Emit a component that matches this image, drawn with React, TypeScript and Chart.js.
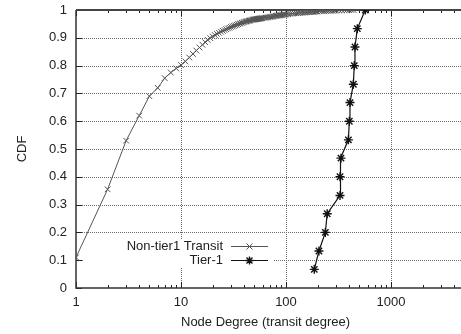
import React, { useEffect, useRef } from "react";
import { Chart, registerables } from "chart.js";

Chart.register(...registerables);

const nonTier1Degrees = [
  1, 2, 3, 4, 5, 6, 7, 8, 9, 10, 11, 12, 13, 14, 15, 16, 17, 18, 19, 20,
  21, 22, 23, 24, 25, 26, 27, 28, 29, 30, 31, 32, 33, 34, 35, 36, 37, 38, 39, 40,
  41, 42, 43, 44, 45, 46, 47, 48, 49, 50, 51, 52, 53, 54, 55, 56, 57, 58, 59, 60,
  62, 64, 66, 68, 70, 72, 74, 76, 78, 80, 82, 84, 86, 88, 90, 92, 94, 96, 98, 100,
  105, 110, 115, 120, 125, 130, 135, 140, 145, 150, 155, 160, 165, 170, 175, 180, 185, 190, 195, 200,
  210, 220, 230, 240, 250, 260, 270, 280, 290, 300,
  320, 340, 360, 380, 400, 420, 440,
];
const nonTier1Cdf = [
  0.11, 0.355, 0.53, 0.62, 0.69, 0.72, 0.755, 0.775, 0.79, 0.802, 0.815, 0.829, 0.842, 0.854, 0.865, 0.875, 0.884, 0.892, 0.899, 0.905,
  0.91, 0.914, 0.918, 0.922, 0.925, 0.928, 0.931, 0.934, 0.936, 0.939, 0.941, 0.943, 0.945, 0.947, 0.949, 0.951, 0.952, 0.954, 0.955, 0.957,
  0.958, 0.959, 0.96, 0.961, 0.962, 0.963, 0.964, 0.965, 0.9655, 0.966, 0.9665, 0.967, 0.9675, 0.968, 0.9685, 0.969, 0.9695, 0.97, 0.9705, 0.971,
  0.972, 0.9725, 0.973, 0.974, 0.975, 0.9755, 0.976, 0.977, 0.978, 0.979, 0.9795, 0.98, 0.9805, 0.981, 0.982, 0.9825, 0.983, 0.983, 0.9835, 0.984,
  0.985, 0.986, 0.987, 0.988, 0.9885, 0.989, 0.9895, 0.99, 0.9905, 0.991, 0.9915, 0.992, 0.9925, 0.993, 0.993, 0.994, 0.994, 0.994, 0.9945, 0.995,
  0.9955, 0.996, 0.9965, 0.997, 0.997, 0.9975, 0.998, 0.998, 0.998, 0.9985,
  0.999, 0.999, 0.9995, 0.9995, 1.0, 1.0, 1.0,
];

const tier1Degrees = [186, 206, 237, 247, 327, 327, 334, 393, 401, 407, 438, 447, 454, 478, 569];
const tier1Cdf = [0.067, 0.133, 0.2, 0.267, 0.333, 0.4, 0.467, 0.533, 0.6, 0.667, 0.733, 0.8, 0.867, 0.933, 1.0];

const xMajorTicks = [1, 10, 100, 1000];
const xMinorTicks = [
  2, 3, 4, 5, 6, 7, 8, 9, 20, 30, 40, 50, 60, 70, 80, 90,
  200, 300, 400, 500, 600, 700, 800, 900, 2000, 3000, 4000,
];
const yTicks = [0, 0.1, 0.2, 0.3, 0.4, 0.5, 0.6, 0.7, 0.8, 0.9, 1];

const seriesNames = ["Non-tier1 Transit", "Tier-1"];

const FONT = '"Liberation Sans", Arial, sans-serif';
const C1 = "#555555";
const C2 = "#111111";

function drawMarker(ctx: CanvasRenderingContext2D, kind: string, x: number, y: number, r: number) {
  ctx.beginPath();
  const d = r * 0.75;
  ctx.moveTo(x - d, y - d);
  ctx.lineTo(x + d, y + d);
  ctx.moveTo(x - d, y + d);
  ctx.lineTo(x + d, y - d);
  if (kind === "star") {
    ctx.moveTo(x - r, y);
    ctx.lineTo(x + r, y);
    ctx.moveTo(x, y - r);
    ctx.lineTo(x, y + r);
  }
  ctx.stroke();
}

const framePlugin = {
  id: "frame",
  beforeDatasetsDraw(chart: any) {
    const { ctx, chartArea, scales } = chart;
    const { left, top, bottom } = chartArea;
    const right = chart.width;
    const xs = scales.x;
    const ys = scales.y;
    ctx.save();
    ctx.strokeStyle = "#6a6a6a";
    ctx.lineWidth = 1;
    ctx.setLineDash([1, 1]);
    yTicks.forEach((v) => {
      if (v === 0 || v === 1) return;
      const py = Math.round(ys.getPixelForValue(v)) + 0.5;
      ctx.beginPath();
      ctx.moveTo(left, py);
      ctx.lineTo(right, py);
      ctx.stroke();
    });
    xMajorTicks.forEach((v) => {
      if (v === 1) return;
      const px = Math.round(xs.getPixelForValue(v)) + 0.5;
      ctx.beginPath();
      ctx.moveTo(px, top);
      ctx.lineTo(px, bottom);
      ctx.stroke();
    });
    ctx.setLineDash([]);
    ctx.fillStyle = "#ffffff";
    ctx.fillRect(84, 240, 190, 27);
    ctx.strokeStyle = "#222";
    ctx.lineWidth = 1;
    const tick = (x1: number, y1: number, x2: number, y2: number) => {
      ctx.beginPath();
      ctx.moveTo(x1, y1);
      ctx.lineTo(x2, y2);
      ctx.stroke();
    };
    xMajorTicks.forEach((v) => {
      const px = Math.round(xs.getPixelForValue(v)) + 0.5;
      tick(px, bottom, px, bottom - 6);
      tick(px, top, px, top + 6);
    });
    xMinorTicks.forEach((v) => {
      const px = Math.round(xs.getPixelForValue(v)) + 0.5;
      tick(px, bottom, px, bottom - 3);
      tick(px, top, px, top + 3);
    });
    yTicks.forEach((v) => {
      const py = Math.round(ys.getPixelForValue(v)) + 0.5;
      tick(left, py, left + 6, py);
    });
    ctx.strokeStyle = "#333";
    ctx.lineWidth = 1.5;
    ctx.beginPath();
    ctx.moveTo(left, top);
    ctx.lineTo(left, bottom);
    ctx.lineTo(right, bottom);
    ctx.stroke();
    ctx.lineWidth = 2;
    ctx.strokeStyle = "#444";
    ctx.beginPath();
    ctx.moveTo(left, top);
    ctx.lineTo(right, top);
    ctx.stroke();
    ctx.restore();
  },
  afterDatasetsDraw(chart: any) {
    const { ctx } = chart;
    ctx.save();
    ctx.font = `13px ${FONT}`;
    ctx.textAlign = "right";
    ctx.textBaseline = "middle";
    ctx.fillStyle = "#222";
    const rows = [
      { name: seriesNames[0], y: 246.5, color: C1, kind: "crossRot" },
      { name: seriesNames[1], y: 260.5, color: C2, kind: "star" },
    ];
    rows.forEach((r) => {
      ctx.fillText(r.name, 223, r.y);
      ctx.strokeStyle = r.color;
      ctx.lineWidth = 1;
      ctx.beginPath();
      ctx.moveTo(231, r.y);
      ctx.lineTo(268, r.y);
      ctx.stroke();
      ctx.lineWidth = r.kind === "star" ? 1.4 : 1;
      drawMarker(ctx, r.kind, 249.5, r.y, 4);
    });
    ctx.restore();
  },
};

export default function App() {
  const ref = useRef<HTMLCanvasElement | null>(null);
  useEffect(() => {
    document.body.style.margin = "0";
    if (!ref.current) return;
    const chart = new Chart(ref.current, {
      type: "scatter",
      data: {
        datasets: [
          {
            label: seriesNames[0],
            data: nonTier1Degrees.map((d, i) => ({ x: d, y: nonTier1Cdf[i] })),
            showLine: true,
            borderColor: C1,
            borderWidth: 1,
            pointStyle: "crossRot",
            pointRadius: 4,
            pointBorderColor: C1,
            pointBorderWidth: 1,
            pointBackgroundColor: C1,
          },
          {
            label: seriesNames[1],
            data: tier1Degrees.map((d, i) => ({ x: d, y: tier1Cdf[i] })),
            showLine: true,
            borderColor: C2,
            borderWidth: 1.2,
            pointStyle: "star",
            pointRadius: 4.5,
            pointBorderColor: C2,
            pointBorderWidth: 1.4,
            pointBackgroundColor: C2,
          },
        ],
      },
      options: {
        responsive: false,
        animation: false,
        layout: { padding: { top: 10, right: 0, left: 0, bottom: 0 } },
        plugins: { legend: { display: false }, tooltip: { enabled: false } },
        scales: {
          x: {
            type: "logarithmic",
            min: 1,
            max: 4080,
            afterBuildTicks: (s: any) => {
              s.ticks = xMajorTicks.map((v) => ({ value: v }));
            },
            afterFit: (s: any) => {
              s.height = 46;
              s.paddingLeft = 0;
              s.paddingRight = 0;
            },
            grid: { display: false, drawTicks: false },
            border: { display: false },
            ticks: {
              autoSkip: false,
              maxRotation: 0,
              padding: 7,
              color: "#222",
              font: { family: FONT, size: 13 },
              callback: (v: any) => String(v),
            },
            title: {
              display: true,
              text: "Node Degree (transit degree)",
              color: "#222",
              font: { family: FONT, size: 13 },
              padding: { top: 4, bottom: 4 },
            },
          },
          y: {
            min: 0,
            max: 1,
            afterBuildTicks: (s: any) => {
              s.ticks = yTicks.map((v) => ({ value: v }));
            },
            afterFit: (s: any) => {
              s.width = 76;
              s.paddingTop = 0;
              s.paddingBottom = 0;
            },
            grid: { display: false, drawTicks: false },
            border: { display: false },
            ticks: {
              padding: 9,
              color: "#222",
              font: { family: FONT, size: 13 },
              callback: (v: any) => (v === 0 || v === 1 ? String(v) : Number(v).toFixed(1)),
            },
            title: {
              display: true,
              text: "CDF",
              color: "#222",
              font: { family: FONT, size: 13 },
              padding: { top: 15, bottom: 4 },
            },
          },
        },
      },
      plugins: [framePlugin],
    } as any);
    return () => chart.destroy();
  }, []);
  return (
    <div style={{ position: "absolute", left: 0, top: 0, width: 461, height: 334 }}>
      <canvas ref={ref} width={461} height={334} style={{ width: 461, height: 334, display: "block" }} />
    </div>
  );
}
